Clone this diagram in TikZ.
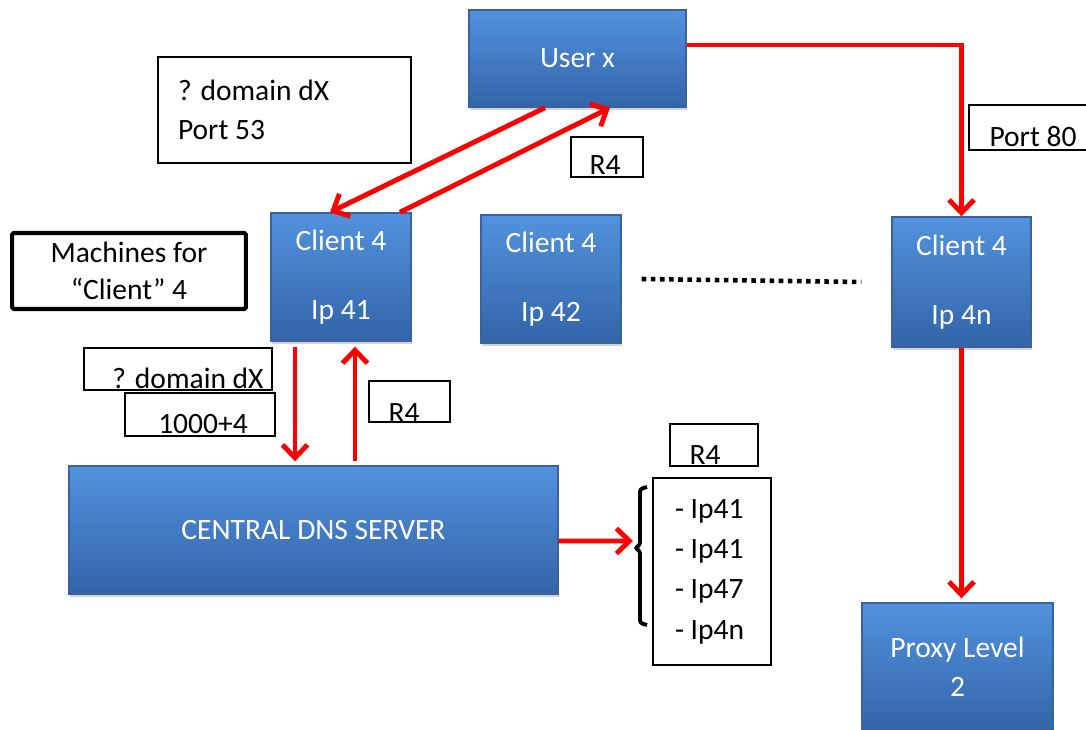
\documentclass[tikz,border=0pt]{standalone}
\usepackage{fontspec}
\setmainfont{Carlito}
\usepackage{xcolor}
\usepackage{tikz}
\usetikzlibrary{arrows.meta}
\usetikzlibrary{shadows}
\definecolor{boxtop}{RGB}{82,146,222}
\definecolor{boxbot}{RGB}{50,100,168}
\definecolor{boxline}{RGB}{58,98,156}

\begin{document}
\begin{tikzpicture}[x=0.02cm, y=-0.02cm,
    blk/.style={draw=boxline, line width=0.8pt, top color=boxtop, bottom color=boxbot,
        text=white, align=center, font=\fontsize{16.8}{20}\selectfont,
        drop shadow={opacity=0.35, shadow xshift=0.6pt, shadow yshift=-1.6pt}},
    lbox/.style={draw, line width=0.6pt, fill=white, inner sep=0pt},
    txt/.style={font=\fontsize{16.8}{20}\selectfont, inner sep=0pt},
    arr/.style={draw=red, line width=2.8pt, -{Straight Barb[length=2.6mm, width=5mm]}}]
    \useasboundingbox (0,0) rectangle (1086,730);

    % blue boxes
    \node[blk, minimum width=4.34cm, minimum height=1.94cm] (user) at (577.5,58.5) {User x};
    \node[blk, minimum width=2.8cm, minimum height=2.56cm] (c41) at (341,277) {Client 4\\[19pt]Ip 41};
    \node[blk, minimum width=2.8cm, minimum height=2.56cm] (c42) at (551,279) {Client 4\\[19pt]Ip 42};
    \node[blk, minimum width=2.78cm, minimum height=2.6cm] (c4n) at (961.5,282) {Client 4\\[19pt]Ip 4n};
    \node[blk, minimum width=9.78cm, minimum height=2.56cm] (dns) at (313.5,530) {CENTRAL DNS SERVER};
    \node[blk, minimum width=3.82cm, minimum height=2.56cm] (proxy) at (957.5,667) {Proxy Level\\[2pt]2};

    % label boxes
    \node[lbox, txt, minimum height=2.12cm, text width=4.26cm, inner xsep=0.4cm, align=flush left] (q53) at (284.5,110) {? domain dX\\[2pt]Port 53};
    \node[lbox, minimum width=1.44cm, minimum height=0.8cm] (r4a) at (607,157) {};
    \node[txt] (r4aT) at (605,165) {R4};
    \node[lbox, minimum width=2.36cm, minimum height=0.9cm] (port80) at (1028,127.5) {};
    \node[txt] (port80T) at (1033,137) {Port 80};
    \node[draw, line width=2.3pt, rounded corners=1pt, minimum width=4.68cm, minimum height=1.52cm,
        align=center, txt] (mach) at (129,271) {Machines for\\[1pt]\textquotedblleft Client\textquotedblright\ 4};
    \node[lbox, minimum width=3.76cm, minimum height=0.84cm] (qdx) at (178,369) {};
    \node[txt] (qdxT) at (188,378) {? domain dX};
    \node[lbox, minimum width=3cm, minimum height=0.86cm] (k1004) at (200,414.5) {};
    \node[txt] (k1004T) at (203,424) {1000+4};
    \node[lbox, minimum width=1.62cm, minimum height=0.82cm] (r4b) at (409.5,401.5) {};
    \node[txt] (r4bT) at (404,413) {R4};
    \node[lbox, minimum width=1.76cm, minimum height=0.84cm] (r4c) at (714,445) {};
    \node[txt] (r4cT) at (705,455) {R4};
    \node[lbox, txt, minimum height=3.74cm, text width=1.48cm, inner xsep=0.44cm, align=flush left] (list) at (712,571.5)
        {- Ip41\\[3pt]- Ip41\\[3pt]- Ip47\\[3pt]- Ip4n};

    % brace
    \draw[line width=2.2pt, rounded corners=1.5pt] (647,487) -- (640,489) -- (640,545) -- (635,548)
        -- (640,551) -- (640,623) -- (647,625);
    \coordinate (brc) at (633,541);

    % dots between clients
    \draw[line width=2.6pt, dash pattern=on 2.6pt off 2.6pt] ([xshift=0.4cm]c42.east) -- ([xshift=-0.6cm]c4n.west);

    % red arrows
    \draw[arr] ([xshift=-0.65cm]user.south) -- ([xshift=-0.22cm]c41.north);
    \draw[arr] ([xshift=1.18cm]c41.north) -- ([xshift=0.65cm]user.south);
    \draw[arr] ([yshift=0.27cm]user.east) -| (c4n.north);
    \draw[arr] ([xshift=-0.92cm,yshift=-0.1cm]c41.south) -- ([xshift=-0.92cm,yshift=0.08cm]c41.south |- dns.north);
    \draw[arr] ([xshift=0.28cm,yshift=0.08cm]c41.south |- dns.north) -- ([xshift=0.28cm,yshift=-0.1cm]c41.south);
    \draw[arr] ([yshift=-0.22cm]dns.east) -- (brc);
    \draw[arr] (c4n.south) -- ([yshift=0.08cm]c4n.south |- proxy.north);

\end{tikzpicture}
\end{document}
